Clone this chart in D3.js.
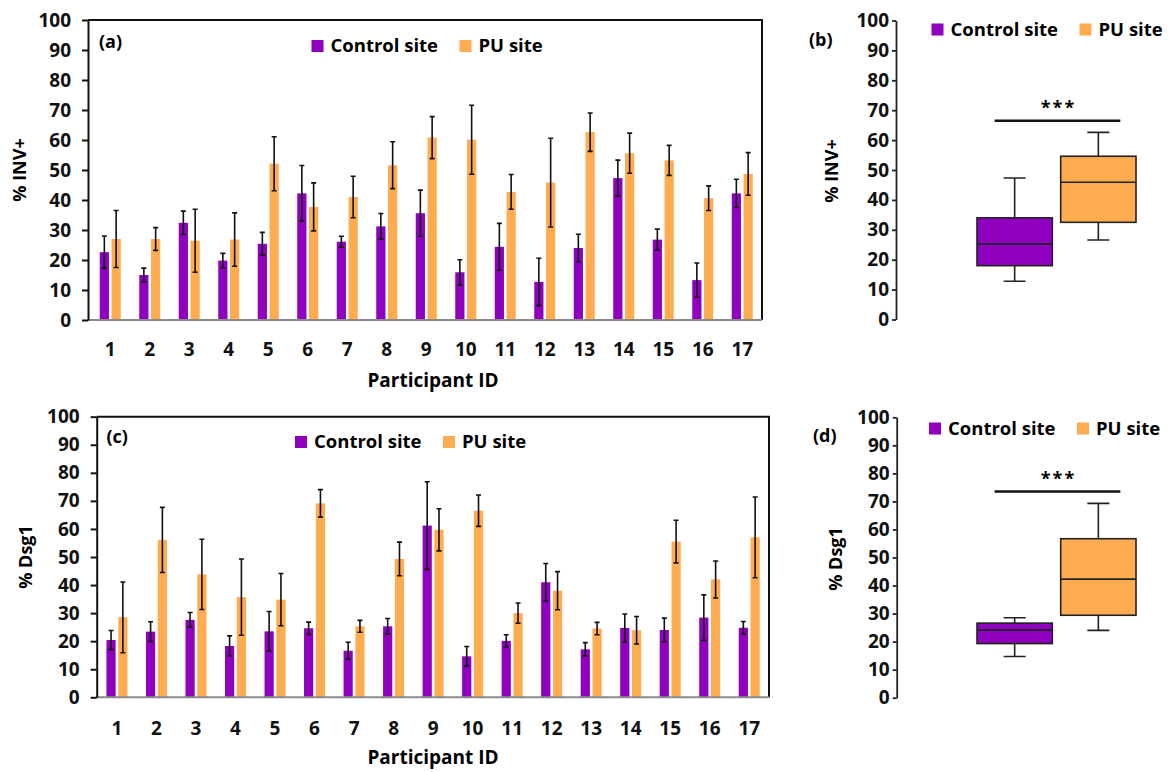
<!doctype html>
<html lang="en">
<head>
<meta charset="utf-8">
<title>INV+ and Dsg1 by participant</title>
<script src="https://cdn.jsdelivr.net/npm/d3@7"></script>
<style>
  body { margin: 0; background: #fff; }
  svg { display: block; font-family: "Open Sans", sans-serif; font-weight: 700; }
</style>
</head>
<body>
<svg width="1169" height="772"></svg>
<script>
var participants = ["1", "2", "3", "4", "5", "6", "7", "8", "9", "10", "11", "12", "13", "14", "15", "16", "17"];
var series = ["Control site", "PU site"];
var yTicks = [0, 10, 20, 30, 40, 50, 60, 70, 80, 90, 100];

// (a) % INV+ per participant, mean and error
var invControl    = [22.6, 15.0, 32.4, 19.8, 25.4, 42.2, 26.1, 31.2, 35.6, 15.9, 24.4, 12.7, 24.0, 47.3, 26.8, 13.3, 42.2];
var invControlErr = [5.4, 2.3, 3.9, 2.4, 3.8, 9.3, 1.8, 4.3, 7.7, 4.2, 7.8, 7.9, 4.6, 6.0, 3.5, 5.7, 4.7];
var invPU         = [27.0, 27.0, 26.4, 26.8, 52.1, 37.7, 41.0, 51.6, 60.8, 60.1, 42.7, 45.8, 62.6, 55.6, 53.2, 40.6, 48.7];
var invPUErr      = [9.5, 3.8, 10.5, 8.9, 9.0, 8.0, 6.9, 7.8, 7.0, 11.5, 5.8, 14.8, 6.4, 6.7, 5.0, 4.1, 7.1];

// (c) % Dsg1 per participant
var dsgControl    = [20.4, 23.4, 27.6, 18.3, 23.5, 24.6, 16.6, 25.3, 61.2, 14.6, 20.1, 41.0, 17.1, 24.7, 24.0, 28.4, 24.8];
var dsgControlErr = [3.4, 3.5, 2.6, 3.6, 7.1, 2.2, 3.0, 2.8, 15.6, 3.5, 2.2, 6.7, 2.4, 5.0, 4.2, 8.1, 2.2];
var dsgPU         = [28.5, 56.1, 43.8, 35.7, 34.8, 69.1, 25.3, 49.3, 59.7, 66.5, 30.0, 38.0, 24.5, 23.9, 55.5, 42.0, 57.0];
var dsgPUErr      = [12.6, 11.6, 12.5, 13.6, 9.3, 4.9, 2.1, 6.0, 7.5, 5.6, 3.6, 6.8, 2.2, 4.9, 7.6, 6.6, 14.4];

// box plots: min, q1, median, q3, max
var invBoxControl = [12.8, 18.0, 25.3, 34.0, 47.3];
var invBoxPU      = [26.6, 32.5, 45.9, 54.6, 62.6];
var dsgBoxControl = [14.7, 19.3, 24.1, 26.6, 28.5];
var dsgBoxPU      = [24.0, 29.4, 42.3, 56.7, 69.3];
var invSig = 66.5;
var dsgSig = 73.5;

var color = d3.scaleOrdinal().domain(series).range(["#8f00bf", "#ffab4f"]);
var svg = d3.select("svg");

function legend(x, y) {
    var lg = svg.append("g")
        .selectAll("g")
        .data(series)
        .enter()
        .append("g")
        .attr("transform", function (d, i) { return "translate(" + (x + i * 148) + "," + y + ")"; });
    lg.append("rect")
        .attr("x", 0).attr("y", -6)
        .attr("width", 12).attr("height", 12)
        .attr("fill", function (d) { return color(d); });
    lg.append("text")
        .attr("x", 19).attr("y", 0)
        .attr("dy", "0.35em")
        .attr("font-size", 18.5)
        .text(function (d) { return d; });
}

function rotatedLabel(txt, cx, cy) {
    svg.append("text")
        .attr("transform", "translate(" + cx + "," + cy + ") rotate(-90)")
        .attr("text-anchor", "middle")
        .attr("dy", "0.35em")
        .attr("font-size", 18)
        .text(txt);
}

function barPanel(o) {
    var y = d3.scaleLinear().domain([0, 100]).range([o.bottom, o.top]);
    var x0 = d3.scaleBand().domain(participants).range([o.bandLeft, o.right]);
    var x1 = d3.scaleBand().domain(series).range([-10.5, 10.5]).paddingInner(0.22);

    var rows = participants.map(function (p, i) {
        return { id: p, vals: [
            { s: series[0], v: o.control[i], e: o.controlErr[i] },
            { s: series[1], v: o.pu[i], e: o.puErr[i] }
        ] };
    });

    // frame (top + right)
    svg.append("path")
        .attr("d", "M" + o.axisX + "," + o.top + "H" + o.right + "V" + o.bottom)
        .attr("fill", "none").attr("stroke", "#111").attr("stroke-width", 2);

    var groups = svg.append("g")
        .selectAll("g")
        .data(rows)
        .enter()
        .append("g")
        .attr("transform", function (d) { return "translate(" + (x0(d.id) + x0.bandwidth() / 2) + ",0)"; });

    groups.selectAll("rect")
        .data(function (d) { return d.vals; })
        .enter()
        .append("rect")
        .attr("x", function (d) { return x1(d.s); })
        .attr("y", function (d) { return y(d.v); })
        .attr("width", x1.bandwidth())
        .attr("height", function (d) { return y(0) - y(d.v); })
        .attr("fill", function (d) { return color(d.s); });

    var eb = groups.selectAll("g.err")
        .data(function (d) { return d.vals; })
        .enter()
        .append("g")
        .attr("class", "err")
        .attr("stroke", "#111")
        .attr("stroke-width", 1.6);
    eb.append("path")
        .attr("fill", "none")
        .attr("d", function (d) {
            var cx = x1(d.s) + x1.bandwidth() / 2;
            var t = y(d.v + d.e), b = y(Math.max(0, d.v - d.e));
            return "M" + cx + "," + t + "V" + b +
                "M" + (cx - 2.5) + "," + t + "H" + (cx + 2.5) +
                "M" + (cx - 2.5) + "," + b + "H" + (cx + 2.5);
        });

    // grey baseline
    svg.append("line")
        .attr("x1", o.axisX).attr("x2", o.right)
        .attr("y1", o.bottom).attr("y2", o.bottom)
        .attr("stroke", "#8a8a8a").attr("stroke-width", 2);

    // y axis
    var ya = svg.append("g")
        .attr("transform", "translate(" + o.axisX + ",0)")
        .call(d3.axisLeft(y).tickValues(yTicks).tickSize(6).tickPadding(11).tickSizeOuter(0));
    ya.select(".domain").attr("stroke", "#111").attr("stroke-width", 2);
    ya.selectAll(".tick line").attr("stroke", "#111").attr("stroke-width", 2);
    ya.selectAll("text").attr("font-size", 19).attr("font-family", "Open Sans").attr("font-weight", 700).attr("fill", "#111");

    // x axis labels
    var xa = svg.append("g")
        .attr("transform", "translate(0," + o.bottom + ")")
        .call(d3.axisBottom(x0).tickSize(0).tickPadding(o.xPad));
    xa.select(".domain").remove();
    xa.selectAll("text").attr("font-size", 19).attr("font-family", "Open Sans").attr("font-weight", 700).attr("fill", "#111");

    svg.append("text")
        .attr("x", 433).attr("y", o.titleY)
        .attr("text-anchor", "middle")
        .attr("font-size", 19)
        .text("Participant ID");

    svg.append("text")
        .attr("x", o.tagX).attr("y", o.tagY)
        .attr("dy", "0.35em")
        .attr("font-size", 18)
        .text(o.tag);

    rotatedLabel(o.label, o.labelX, o.labelY);
    legend(o.legendX, o.legendY);
}

function boxPanel(o) {
    var y = d3.scaleLinear().domain([0, 100]).range([o.bottom, o.top]);
    var x = d3.scaleBand().domain(series).range([977, 1136]).paddingInner(0.1);
    var stats = [{ s: series[0], q: o.control }, { s: series[1], q: o.pu }];

    var ya = svg.append("g")
        .attr("transform", "translate(" + o.axisX + ",0)")
        .call(d3.axisLeft(y).tickValues(yTicks).tickSize(4).tickPadding(3).tickSizeOuter(0));
    ya.select(".domain").attr("stroke", "#222").attr("stroke-width", 1.8);
    ya.selectAll(".tick line").attr("stroke", "#222").attr("stroke-width", 1.8);
    ya.selectAll("text").attr("font-size", 19).attr("font-family", "Open Sans").attr("font-weight", 700).attr("fill", "#111");

    var b = svg.append("g")
        .selectAll("g")
        .data(stats)
        .enter()
        .append("g")
        .attr("stroke", "#222")
        .attr("stroke-width", 1.6);

    b.append("path")
        .attr("fill", "none")
        .attr("d", function (d) {
            var cx = x(d.s) + x.bandwidth() / 2;
            return "M" + cx + "," + y(d.q[4]) + "V" + y(d.q[3]) +
                "M" + cx + "," + y(d.q[1]) + "V" + y(d.q[0]) +
                "M" + (cx - 11) + "," + y(d.q[4]) + "H" + (cx + 11) +
                "M" + (cx - 11) + "," + y(d.q[0]) + "H" + (cx + 11);
        });
    b.append("rect")
        .attr("x", function (d) { return x(d.s); })
        .attr("y", function (d) { return y(d.q[3]); })
        .attr("width", x.bandwidth())
        .attr("height", function (d) { return y(d.q[1]) - y(d.q[3]); })
        .attr("fill", function (d) { return color(d.s); });
    b.append("line")
        .attr("x1", function (d) { return x(d.s); })
        .attr("x2", function (d) { return x(d.s) + x.bandwidth(); })
        .attr("y1", function (d) { return y(d.q[2]); })
        .attr("y2", function (d) { return y(d.q[2]); });

    var c0 = x(series[0]) + x.bandwidth() / 2, c1 = x(series[1]) + x.bandwidth() / 2;
    svg.append("line")
        .attr("x1", c0 - 20).attr("x2", c1 + 22)
        .attr("y1", y(o.sig)).attr("y2", y(o.sig))
        .attr("stroke", "#111").attr("stroke-width", 2.5);
    svg.append("text")
        .attr("x", (c0 + c1) / 2 + 2).attr("y", y(o.sig) - 13)
        .attr("text-anchor", "middle")
        .attr("dy", "0.35em")
        .attr("font-size", 18)
        .attr("letter-spacing", 2)
        .text("***");

    svg.append("text")
        .attr("x", o.tagX).attr("y", o.tagY)
        .attr("dy", "0.35em")
        .attr("font-size", 18)
        .text(o.tag);

    rotatedLabel(o.label, o.labelX, o.labelY);
    legend(o.legendX, o.legendY);
}

barPanel({
    axisX: 88, bandLeft: 90.5, right: 762, top: 20, bottom: 320, xPad: 23, titleY: 387,
    control: invControl, controlErr: invControlErr, pu: invPU, puErr: invPUErr,
    tag: "(a)", tagX: 99, tagY: 42, label: "% INV+", labelX: 20, labelY: 170,
    legendX: 311.5, legendY: 46
});

barPanel({
    axisX: 96.7, bandLeft: 97.2, right: 769, top: 416.7, bottom: 697.3, xPad: 24, titleY: 764,
    control: dsgControl, controlErr: dsgControlErr, pu: dsgPU, puErr: dsgPUErr,
    tag: "(c)", tagX: 106.5, tagY: 437, label: "% Dsg1", labelX: 26, labelY: 557,
    legendX: 295, legendY: 442
});

boxPanel({
    axisX: 896, top: 20.5, bottom: 319.5, control: invBoxControl, pu: invBoxPU, sig: invSig,
    tag: "(b)", tagX: 809, tagY: 40, label: "% INV+", labelX: 832, labelY: 171,
    legendX: 931.5, legendY: 29.5
});

boxPanel({
    axisX: 896.7, top: 417.3, bottom: 697.7, control: dsgBoxControl, pu: dsgBoxPU, sig: dsgSig,
    tag: "(d)", tagX: 813, tagY: 436, label: "% Dsg1", labelX: 836, labelY: 559,
    legendX: 929, legendY: 428.5
});
</script>
</body>
</html>
